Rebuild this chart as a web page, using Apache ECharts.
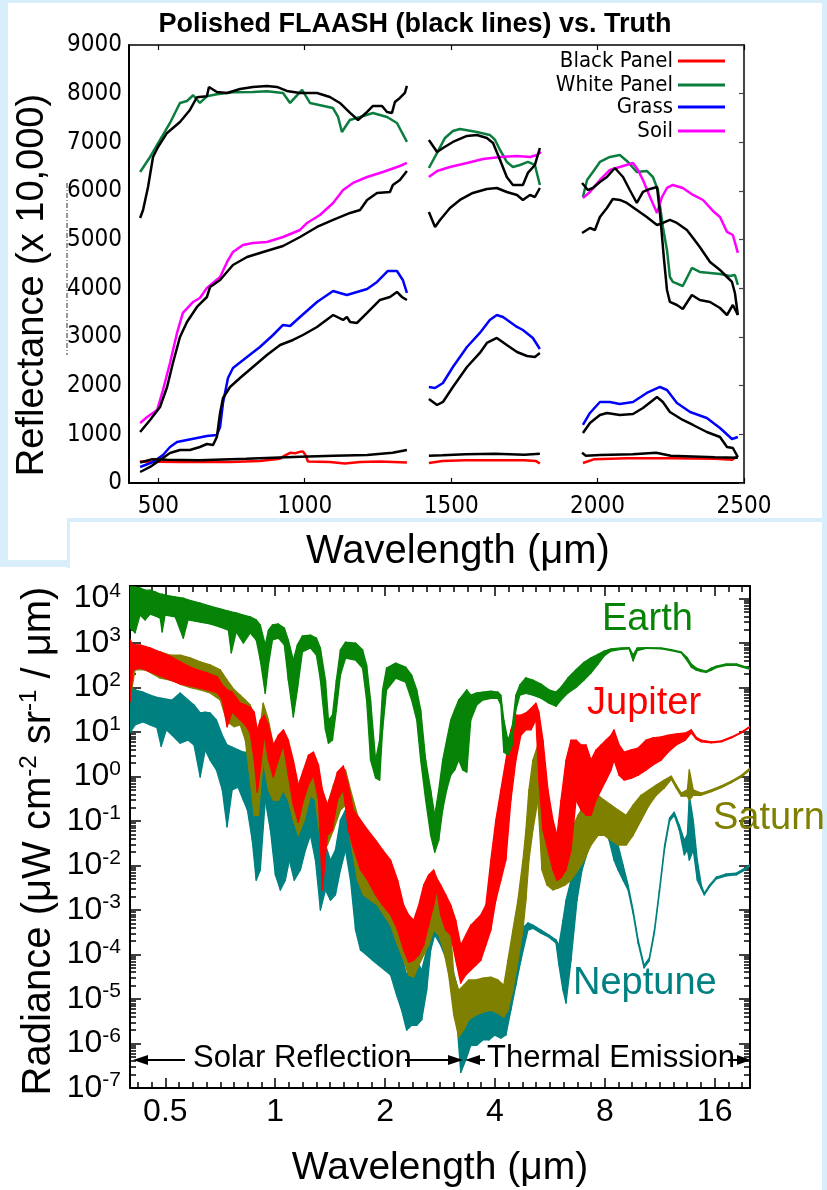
<!DOCTYPE html>
<html><head><meta charset="utf-8">
<script src="https://cdn.jsdelivr.net/npm/echarts/dist/echarts.min.js"></script>
<style>html,body{margin:0;padding:0;background:#fff;}#c{width:827px;height:1190px;}</style>
</head><body><div id="c"></div>
<script>
// ---------------- TOP PANEL DATA (wavelength nm, reflectance x10,000), 3 segments each ----------------
const blackPanelTruth = [
 [[437,440],[574,430],[745,430],[847,450],[915,500],[933,570],[950,620],[967,610],[984,640],[994,650],[1004,560],[1011,440],[1086,430],[1137,400],[1189,430],[1257,440],[1349,420]],
 [[1424,410],[1470,450],[1550,470],[1650,470],[1750,465],[1790,450],[1803,400]],
 [[1950,410],[1990,490],[2100,510],[2250,510],[2400,500],[2460,480],[2479,560]]
];
const blackPanelFlaash = [
 [[438,420],[480,490],[530,480],[640,470],[800,500],[984,540],[1100,560],[1213,575],[1300,620],[1349,680]],
 [[1424,560],[1470,570],[1550,590],[1650,600],[1750,580],[1803,600]],
 [[1947,620],[1960,560],[2008,575],[2120,590],[2200,620],[2250,560],[2400,530],[2479,520]]
];
const whitePanelTruth = [
 [[438,6391],[472,6699],[506,7049],[540,7398],[574,7809],[598,7850],[619,7967],[642,7809],[666,7946],[700,7987],[755,8028],[823,8035],[871,8049],[926,8015],[950,7809],[991,8076],[1018,7809],[1096,7706],[1114,7521],[1127,7213],[1154,7460],[1189,7521],[1233,7604],[1281,7521],[1315,7398],[1349,7008]],
 [[1424,6473],[1452,6782],[1479,7090],[1506,7234],[1530,7275],[1588,7213],[1632,7152],[1650,7049],[1667,6843],[1690,6597],[1711,6494],[1735,6535],[1762,6597],[1786,6535],[1803,6124]],
 [[1950,5877],[1964,6227],[1984,6391],[2008,6597],[2042,6699],[2076,6740],[2100,6618],[2134,6391],[2168,6412],[2189,6288],[2206,6021],[2223,5261],[2237,4788],[2247,4233],[2257,4131],[2291,4048],[2322,4418],[2349,4336],[2384,4316],[2418,4295],[2452,4254],[2469,4274],[2479,4069]]
];
const whitePanelFlaash = [
 [[438,5446],[448,5610],[465,6083],[482,6699],[499,6905],[530,7193],[574,7419],[608,7665],[632,7926],[666,7946],[673,8138],[700,8035],[735,8015],[779,8097],[823,8138],[871,8158],[905,8138],[939,8056],[984,8015],[1042,8015],[1086,7932],[1120,7809],[1155,7604],[1182,7460],[1213,7624],[1233,7747],[1264,7747],[1281,7624],[1298,7604],[1308,7829],[1325,7912],[1342,8015],[1349,8158]],
 [[1424,7049],[1452,6802],[1472,6884],[1506,7008],[1554,7131],[1588,7152],[1622,7090],[1643,6987],[1667,6638],[1690,6288],[1711,6124],[1745,6124],[1762,6371],[1786,6535],[1803,6884]],
 [[1947,6165],[1967,6021],[1984,6062],[2008,6186],[2032,6288],[2059,6473],[2087,6288],[2110,6021],[2134,5754],[2155,5980],[2179,6042],[2203,6083],[2213,5549],[2227,4583],[2237,3966],[2247,3720],[2271,3658],[2291,3576],[2322,3863],[2349,3761],[2384,3720],[2418,3596],[2442,3452],[2462,3658],[2479,3452]]
];
const grassTruth = [
 [[438,329],[482,432],[516,575],[540,740],[564,843],[598,884],[632,925],[666,966],[700,986],[711,1151],[721,1644],[738,2158],[755,2363],[803,2589],[847,2795],[892,3041],[926,3247],[950,3226],[984,3411],[1042,3720],[1097,3946],[1120,3905],[1144,3863],[1213,3987],[1247,4131],[1284,4357],[1315,4357],[1335,4172],[1349,3905]],
 [[1424,1973],[1445,1952],[1472,2055],[1506,2384],[1554,2795],[1598,3083],[1632,3350],[1656,3452],[1677,3411],[1725,3206],[1745,3144],[1779,2980],[1803,2754]],
 [[1950,1192],[1974,1439],[2008,1665],[2042,1665],[2076,1623],[2121,1665],[2168,1850],[2213,1973],[2237,1911],[2271,1644],[2316,1459],[2373,1336],[2418,1130],[2459,904],[2479,945]]
];
const grassFlaash = [
 [[438,226],[472,329],[506,473],[540,617],[574,678],[608,678],[642,740],[666,801],[687,781],[700,945],[711,1439],[721,1747],[745,1973],[779,2158],[823,2384],[871,2630],[916,2836],[960,2939],[994,3041],[1042,3206],[1097,3452],[1131,3350],[1144,3411],[1155,3309],[1178,3288],[1213,3494],[1257,3761],[1291,3822],[1315,3925],[1332,3822],[1349,3761]],
 [[1424,1726],[1438,1665],[1452,1603],[1472,1665],[1506,1973],[1554,2384],[1598,2672],[1622,2877],[1656,2980],[1690,2836],[1725,2692],[1759,2610],[1786,2589],[1803,2672]],
 [[1950,1028],[1974,1233],[2008,1397],[2032,1439],[2076,1397],[2121,1418],[2155,1541],[2203,1767],[2223,1665],[2247,1459],[2291,1295],[2326,1192],[2373,1048],[2418,945],[2442,740],[2462,719],[2479,534]]
];
const soilTruth = [
 [[438,1233],[462,1356],[496,1500],[516,1911],[540,2466],[564,3083],[584,3494],[619,3720],[642,3802],[666,4007],[711,4233],[735,4542],[755,4747],[789,4891],[823,4932],[871,4953],[926,5055],[984,5199],[1008,5343],[1052,5507],[1097,5754],[1131,6021],[1165,6165],[1213,6288],[1267,6391],[1325,6514],[1349,6576]],
 [[1424,6288],[1452,6412],[1496,6494],[1554,6576],[1609,6658],[1667,6699],[1725,6720],[1769,6699],[1793,6740],[1807,6802]],
 [[1950,5857],[1974,5980],[2008,6227],[2042,6432],[2076,6494],[2121,6576],[2138,6432],[2155,6227],[2179,5877],[2203,5549],[2220,5877],[2237,6062],[2257,6124],[2291,6062],[2326,5918],[2360,5815],[2394,5590],[2418,5466],[2442,5158],[2462,5096],[2479,4727]]
];
const soilFlaash = [
 [[438,1048],[472,1295],[506,1562],[530,1973],[550,2466],[574,3000],[598,3309],[632,3617],[666,3822],[677,4028],[711,4172],[755,4480],[803,4644],[858,4747],[926,4870],[984,5055],[1042,5261],[1097,5405],[1155,5549],[1189,5610],[1213,5816],[1247,5960],[1291,5980],[1301,6124],[1325,6227],[1349,6412]],
 [[1424,5569],[1445,5261],[1462,5405],[1496,5651],[1530,5816],[1574,5960],[1622,6042],[1656,6062],[1690,5980],[1725,5918],[1745,5816],[1769,5918],[1786,5877],[1803,6062]],
 [[1947,5138],[1974,5240],[1991,5199],[2008,5466],[2032,5651],[2052,5836],[2076,5816],[2100,5754],[2134,5610],[2168,5466],[2203,5302],[2223,5343],[2247,5405],[2271,5343],[2305,5199],[2326,5035],[2349,4850],[2384,4542],[2418,4377],[2442,4233],[2459,4131],[2469,3904],[2479,3452]]
];
const topXTicks = [500, 1000, 1500, 2000, 2500];

// ---------------- BOTTOM PANEL DATA: [wavelength µm, upper log10 radiance, lower log10 radiance] ----------------
const earthBand = [
[0.400,4.26,3.34],[0.413,4.26,3.23],[0.426,4.24,3.63],[0.440,4.19,3.52],[0.454,4.19,3.65],[0.469,4.15,3.61],[0.484,4.10,3.56],[0.490,4.10,3.25],[0.499,4.08,3.63],[0.532,4.04,3.59],[0.560,4.01,3.11],[0.577,3.97,3.52],[0.623,3.90,3.47],[0.663,3.83,3.43],[0.707,3.77,3.36],[0.744,3.72,3.29],[0.758,3.70,2.78],[0.782,3.68,3.25],[0.818,3.63,3.00],[0.854,3.59,3.23],[0.887,3.52,3.07],[0.910,3.41,2.62],[0.939,2.96,1.87],[0.958,3.29,2.51],[0.983,3.41,3.07],[1.020,3.43,3.11],[1.059,3.34,2.96],[1.086,3.07,2.17],[1.121,2.62,1.34],[1.150,2.96,1.95],[1.187,3.16,2.80],[1.249,3.18,2.89],[1.297,3.11,2.73],[1.330,2.89,2.17],[1.373,2.17,1.05],[1.399,1.27,0.75],[1.435,1.38,0.82],[1.471,2.17,1.50],[1.509,2.85,2.28],[1.558,3.02,2.66],[1.660,3.00,2.62],[1.735,2.85,2.44],[1.780,2.51,1.72],[1.825,1.72,0.37],[1.884,0.37,-0.03],[1.932,0.82,-0.08],[1.969,1.95,1.05],[2.019,2.44,1.95],[2.138,2.55,2.21],[2.277,2.46,2.12],[2.365,2.28,1.72],[2.442,1.95,1.27],[2.504,1.50,0.37],[2.584,0.37,-0.53],[2.667,-0.30,-1.32],[2.736,-0.87,-1.70],[2.806,-0.30,-1.43],[2.877,0.37,-0.75],[2.950,0.82,-0.30],[3.027,1.27,0.03],[3.104,1.50,0.15],[3.183,1.72,0.37],[3.265,1.83,0.15],[3.348,1.95,0.10],[3.435,1.83,1.27],[3.567,1.88,1.61],[3.705,1.90,1.72],[3.898,1.92,1.76],[4.075,1.90,1.76],[4.152,1.83,1.61],[4.231,1.27,0.55],[4.341,0.82,0.48],[4.452,1.05,0.68],[4.566,1.83,1.50],[4.682,2.06,1.83],[4.864,2.22,1.87],[5.083,2.17,1.83],[5.348,2.08,1.76],[5.625,1.95,1.65],[5.880,1.90,1.58],[6.069,2.01,1.72],[6.346,2.22,1.88],[6.673,2.40,2.00],[7.019,2.57,2.17],[7.336,2.67,2.33],[7.667,2.75,2.53],[7.965,2.82,2.71],[8.325,2.87,2.82],[8.868,2.89,2.86],[9.332,2.90,2.87],[9.566,2.73,2.60],[9.812,2.89,2.83],[10.39,2.90,2.88],[11.42,2.89,2.87],[12.17,2.85,2.83],[12.96,2.80,2.78],[13.47,2.67,2.60],[13.81,2.53,2.46],[14.25,2.44,2.39],[14.71,2.40,2.36],[15.18,2.37,2.34],[15.67,2.44,2.39],[16.17,2.48,2.45],[17.23,2.53,2.50],[18.35,2.53,2.50],[19.55,2.46,2.43],[20.0,2.44,2.41]
];
const jupiterBand = [
[0.400,3.07,1.68],[0.408,2.96,2.40],[0.426,2.96,2.44],[0.454,2.89,2.35],[0.484,2.80,2.26],[0.515,2.71,2.17],[0.549,2.58,2.08],[0.585,2.46,2.04],[0.612,2.40,2.00],[0.651,2.33,1.95],[0.694,2.24,1.88],[0.716,2.06,1.72],[0.738,1.95,1.12],[0.762,1.90,1.45],[0.802,1.65,1.27],[0.828,1.61,1.16],[0.854,1.56,0.98],[0.876,1.45,0.37],[0.893,1.05,-0.35],[0.910,1.27,0.15],[0.933,1.38,0.93],[0.958,1.16,0.37],[0.988,0.71,-0.01],[1.020,0.93,0.37],[1.053,1.05,0.71],[1.086,0.82,0.03],[1.121,0.37,-0.64],[1.157,-0.19,-1.03],[1.195,0.15,-0.53],[1.233,0.48,-0.19],[1.273,0.55,0.03],[1.314,0.26,-0.53],[1.347,-0.30,-2.55],[1.390,-0.64,-1.32],[1.435,-0.30,-1.20],[1.480,0.10,-0.53],[1.537,0.24,-0.30],[1.586,-0.19,-1.20],[1.637,-0.75,-1.60],[1.713,-0.98,-2.10],[1.791,-1.20,-2.33],[1.884,-1.43,-2.66],[1.969,-1.65,-2.89],[2.071,-1.88,-3.11],[2.165,-2.33,-3.45],[2.249,-2.89,-3.90],[2.321,-3.11,-4.17],[2.395,-3.23,-4.13],[2.473,-2.89,-4.01],[2.552,-2.44,-3.79],[2.634,-2.21,-3.34],[2.718,-2.10,-2.89],[2.770,-2.28,-2.55],[2.841,-2.44,-3.11],[2.932,-2.66,-3.45],[3.027,-2.89,-3.56],[3.124,-3.23,-4.13],[3.224,-3.79,-4.64],[3.328,-3.56,-4.46],[3.435,-3.34,-4.35],[3.545,-3.23,-4.24],[3.659,-3.11,-4.13],[3.777,-2.89,-3.79],[3.898,-1.88,-3.45],[4.023,-0.98,-2.78],[4.152,-0.30,-2.33],[4.286,0.37,-1.88],[4.424,1.05,-0.53],[4.566,1.38,0.37],[4.712,1.38,0.93],[4.864,1.43,1.05],[5.020,1.53,1.05],[5.181,1.65,1.27],[5.279,1.45,-0.08],[5.416,0.82,-1.20],[5.590,-0.30,-1.65],[5.770,-0.98,-2.10],[5.917,-1.32,-2.33],[6.069,-0.53,-2.28],[6.264,0.37,-2.10],[6.465,0.82,-1.65],[6.673,0.82,-0.53],[6.887,0.71,-0.75],[7.108,0.71,-0.87],[7.336,0.37,-0.87],[7.572,0.60,-0.53],[7.815,0.71,-0.30],[8.066,0.82,-0.08],[8.325,0.93,0.15],[8.481,1.05,0.37],[8.757,0.71,0.03],[9.039,0.55,-0.08],[9.447,0.60,-0.04],[9.874,0.64,0.03],[10.39,0.82,0.15],[10.84,0.87,0.26],[11.42,0.89,0.37],[11.94,0.93,0.55],[12.56,0.96,0.71],[13.30,0.98,0.82],[13.81,1.05,0.98],[14.25,0.88,0.84],[14.71,0.82,0.78],[15.67,0.78,0.76],[16.69,0.80,0.78],[17.78,0.89,0.87],[18.94,1.00,0.98],[20.0,1.13,1.11]
];
const saturnBand = [
[0.400,3.07,1.72],[0.413,2.89,2.40],[0.440,2.85,2.40],[0.484,2.80,2.21],[0.515,2.73,2.17],[0.549,2.73,2.08],[0.585,2.67,2.00],[0.623,2.58,1.95],[0.663,2.51,1.88],[0.707,2.40,1.72],[0.738,2.17,1.23],[0.772,1.95,1.12],[0.802,1.83,1.16],[0.828,1.72,0.82],[0.854,1.61,-0.08],[0.876,1.38,-0.87],[0.899,0.82,-0.87],[0.927,1.65,0.37],[0.958,1.27,-0.30],[0.988,0.71,-0.53],[1.020,0.71,-0.53],[1.053,0.66,-0.30],[1.086,0.37,-0.53],[1.121,0.03,-0.98],[1.157,-0.30,-1.32],[1.202,-0.08,-0.98],[1.249,0.21,-0.42],[1.289,0.26,-0.53],[1.330,-0.19,-1.43],[1.390,-0.64,-1.54],[1.444,-0.19,-1.20],[1.509,0.15,-0.75],[1.558,0.15,-0.64],[1.608,-0.30,-1.43],[1.681,-0.87,-2.33],[1.746,-1.09,-2.66],[1.825,-1.32,-2.78],[1.907,-1.54,-2.89],[1.982,-1.77,-3.11],[2.071,-2.10,-3.34],[2.165,-2.55,-3.79],[2.249,-3.00,-4.13],[2.321,-3.34,-4.46],[2.395,-3.45,-4.51],[2.473,-3.11,-4.24],[2.552,-2.66,-4.01],[2.634,-2.44,-3.79],[2.718,-2.33,-3.45],[2.806,-2.44,-3.56],[2.895,-2.66,-3.90],[2.988,-2.89,-4.46],[3.085,-4.46,-5.36],[3.183,-4.80,-5.85],[3.286,-4.69,-5.69],[3.391,-4.57,-5.47],[3.545,-4.57,-5.36],[3.705,-4.53,-5.30],[3.898,-4.51,-5.25],[4.075,-4.57,-5.32],[4.231,-4.69,-5.41],[4.341,-4.13,-5.25],[4.480,-3.45,-4.80],[4.624,-2.78,-4.13],[4.773,-1.88,-3.45],[4.864,-1.20,-2.78],[4.957,-0.30,-1.88],[5.083,0.37,-1.20],[5.246,0.71,-0.53],[5.382,-0.53,-2.10],[5.555,-1.65,-2.44],[5.770,-1.99,-2.55],[5.954,-1.88,-2.51],[6.225,-1.54,-2.44],[6.465,-1.20,-2.33],[6.758,-0.87,-2.10],[7.019,-0.64,-1.88],[7.336,-0.42,-1.54],[7.667,-0.42,-1.32],[7.965,-0.53,-1.32],[8.325,-0.64,-1.43],[8.702,-0.75,-1.54],[9.153,-0.87,-1.54],[9.566,-0.64,-1.32],[10.06,-0.42,-0.98],[10.59,-0.30,-0.64],[11.07,-0.19,-0.42],[11.64,-0.08,-0.26],[12.17,0.01,-0.06],[12.56,-0.19,-0.26],[12.96,-0.37,-0.44],[13.47,-0.30,-0.44],[13.64,0.15,-0.53],[13.98,-0.30,-0.42],[14.71,-0.37,-0.42],[15.67,-0.30,-0.34],[16.69,-0.21,-0.25],[17.78,-0.10,-0.14],[18.94,0.03,-0.01],[20.0,0.19,0.15]
];
const neptuneBand = [
[0.400,2.01,0.98],[0.413,1.95,1.16],[0.434,1.90,1.23],[0.454,1.83,1.16],[0.474,1.78,1.10],[0.487,1.76,0.68],[0.503,1.74,1.05],[0.522,1.72,0.93],[0.549,1.88,0.75],[0.577,1.72,0.82],[0.599,1.61,0.71],[0.623,1.43,-0.01],[0.643,1.45,0.60],[0.663,1.43,0.37],[0.690,1.27,0.15],[0.716,0.93,-0.30],[0.738,0.71,-1.13],[0.762,0.66,-0.30],[0.791,0.60,-0.24],[0.818,0.55,-0.53],[0.839,0.55,-0.75],[0.865,0.03,-1.43],[0.887,-0.30,-2.33],[0.910,-0.19,-2.10],[0.939,0.60,-0.53],[0.970,0.15,-1.20],[1.001,-0.30,-2.21],[1.033,0.15,-2.55],[1.066,0.03,-2.33],[1.093,-0.08,-1.88],[1.128,-0.53,-2.33],[1.172,-0.75,-2.10],[1.210,-0.53,-1.65],[1.249,-0.30,-1.32],[1.289,-0.53,-1.88],[1.330,-0.98,-3.00],[1.373,-1.54,-2.55],[1.417,-1.88,-2.78],[1.462,-1.65,-2.66],[1.509,-0.98,-2.10],[1.558,-0.75,-1.65],[1.608,-1.20,-2.33],[1.660,-1.88,-3.45],[1.713,-2.33,-3.90],[1.780,-2.66,-4.01],[1.848,-2.78,-4.13],[1.920,-2.89,-4.24],[1.994,-2.89,-4.35],[2.071,-3.00,-4.46],[2.151,-3.45,-4.91],[2.220,-4.01,-5.25],[2.292,-4.46,-5.70],[2.365,-4.24,-5.59],[2.442,-4.13,-5.59],[2.520,-4.35,-5.47],[2.601,-3.90,-4.80],[2.667,-3.45,-3.90],[2.736,-3.29,-3.56],[2.841,-3.45,-3.79],[2.950,-3.79,-4.13],[3.046,-4.24,-4.80],[3.144,-4.69,-5.47],[3.224,-5.47,-6.65],[3.328,-5.25,-6.37],[3.435,-5.14,-6.04],[3.567,-5.09,-6.04],[3.705,-5.14,-5.92],[3.849,-5.02,-5.92],[3.998,-4.98,-5.81],[4.152,-4.91,-5.88],[4.286,-4.80,-5.81],[4.424,-4.13,-5.25],[4.566,-3.79,-4.69],[4.712,-3.45,-4.13],[4.925,-3.29,-3.45],[5.083,-3.34,-3.41],[5.348,-3.45,-3.52],[5.625,-3.56,-3.61],[5.880,-3.67,-3.74],[5.991,-3.79,-4.24],[6.145,-3.23,-4.80],[6.264,-2.78,-5.09],[6.465,-2.33,-4.13],[6.715,-1.88,-2.78],[6.931,-1.43,-2.10],[7.199,-1.09,-1.65],[7.477,-0.80,-1.20],[7.718,-0.75,-1.09],[7.965,-0.87,-1.20],[8.221,-0.98,-1.43],[8.481,-1.09,-1.88],[8.702,-1.54,-2.10],[8.981,-1.99,-2.33],[9.268,-2.44,-2.55],[9.566,-3.00,-3.08],[9.874,-3.67,-3.75],[10.25,-4.24,-4.30],[10.59,-4.08,-4.14],[10.94,-3.45,-3.52],[11.29,-2.55,-2.62],[11.67,-1.54,-1.62],[12.04,-0.93,-1.00],[12.40,-0.80,-0.87],[12.80,-1.09,-1.20],[13.21,-1.43,-1.76],[13.47,-1.31,-1.65],[13.64,-0.42,-1.88],[13.98,-0.98,-1.65],[14.34,-1.88,-2.33],[14.71,-2.44,-2.52],[14.99,-2.62,-2.66],[15.49,-2.44,-2.48],[16.17,-2.26,-2.30],[17.23,-2.19,-2.23],[18.35,-2.17,-2.21],[19.55,-2.04,-2.08],[20.0,-1.97,-2.01]
];
const bottomXLabels = [0.5, 1, 2, 4, 8, 16];
const bottomYExponents = [-7,-6,-5,-4,-3,-2,-1,0,1,2,3,4];

// ---------------- helpers ----------------
const SANS = "'Liberation Sans', Arial, Helvetica, sans-serif";
const NARROW = "'Liberation Sans Narrow', 'DejaVu Sans Condensed', 'Liberation Sans', sans-serif";
const LB = '#d9eefb';
const X_MIN = Math.log2(0.4), X_MAX = Math.log2(20), Y_MIN = -7, Y_MAX = 4.283;

function joinSegs(segs){
  const out = [];
  segs.forEach((s, i) => {
    if (i) out.push([(segs[i-1][segs[i-1].length-1][0] + s[0][0]) / 2, '-']);
    s.forEach(p => out.push(p));
  });
  return out;
}
function topLine(name, segs, color, z){
  return { type:'line', name, xAxisIndex:0, yAxisIndex:0, data: joinSegs(segs), symbol:'none',
    connectNulls:false, lineStyle:{color, width:2.5}, itemStyle:{color}, z, animation:false };
}
function bandSeries(name, band, color){
  const data = [];
  for (let i = 0; i < band.length - 1; i++) {
    const a = band[i], b = band[i+1];
    data.push([Math.log2(a[0]), a[1], a[2], Math.log2(b[0]), b[1], b[2]]);
  }
  return { type:'custom', name, xAxisIndex:2, yAxisIndex:2, clip:true, data,
    encode:{x:[0,3], y:[1,2,4,5]},
    renderItem(params, api){
      const p1 = api.coord([api.value(0), api.value(1)]);
      const p2 = api.coord([api.value(3), api.value(4)]);
      const p3 = api.coord([api.value(3), api.value(5)]);
      const p4 = api.coord([api.value(0), api.value(2)]);
      return { type:'polygon', shape:{points:[p1,p2,p3,p4]},
        style:{fill:color, stroke:color, lineWidth:1.3, lineJoin:'round'} };
    }, animation:false };
}
const xMajor = bottomXLabels.map(v => Math.log2(v));
const xMinor = []; for (let k = -10; k <= 34; k++) if (k % 8 !== 0) xMinor.push(k / 8);
const yMinor = []; for (let n = -7; n <= 4; n++) for (let k = 2; k <= 9; k++) { const v = n + Math.log10(k); if (v <= Y_MAX) yMinor.push(v); }

const blankAxis = { axisLabel:{show:false}, splitLine:{show:false} };
function botX(grid, pos, ticks, len, showLine){
  return Object.assign({ type:'value', gridIndex:grid, position:pos, min:X_MIN, max:X_MAX,
    axisLine:{show:showLine, onZero:false, lineStyle:{color:'#000', width:2}},
    axisTick:{show:true, inside:true, length:len, customValues:ticks, lineStyle:{color:'#000', width:1.5}} }, blankAxis);
}
function botY(grid, pos, ticks, len, showLine){
  return Object.assign({ type:'value', gridIndex:grid, position:pos, min:Y_MIN, max:Y_MAX,
    axisLine:{show:showLine, onZero:false, lineStyle:{color:'#000', width:2}},
    axisTick:{show:true, inside:true, length:len, customValues:ticks, lineStyle:{color:'#000', width:1.5}} }, blankAxis);
}

const plain = v => String(v);
const xAxes = [
  { type:'value', gridIndex:0, position:'bottom', min:400, max:2500,
    axisLine:{onZero:false, lineStyle:{color:'#000', width:2}},
    axisTick:{inside:true, length:5, customValues:topXTicks, lineStyle:{color:'#000', width:1.2}},
    axisLabel:{customValues:topXTicks, margin:12, fontSize:24, fontFamily:NARROW, color:'#000', formatter:plain},
    splitLine:{show:false} },
  { type:'value', gridIndex:0, position:'top', min:400, max:2500,
    axisLine:{onZero:false, lineStyle:{color:'#000', width:1.5}},
    axisTick:{inside:true, length:5, customValues:topXTicks, lineStyle:{color:'#000', width:1.2}},
    axisLabel:{show:false}, splitLine:{show:false} },
  Object.assign(botX(1, 'bottom', xMajor, 10, true), {
    axisLabel:{show:true, customValues:xMajor, margin:8, fontSize:32, fontFamily:SANS, color:'#000',
      formatter: v => String(Math.round(Math.pow(2, v) * 10) / 10)} }),
  botX(1, 'top', xMajor, 10, true),
  botX(2, 'bottom', xMinor, 6, false),
  botX(2, 'top', xMinor, 6, false)
];
const yAxes = [
  { type:'value', gridIndex:0, position:'left', min:0, max:9000, interval:1000,
    axisLine:{show:true, onZero:false, lineStyle:{color:'#000', width:2}}, axisTick:{show:false},
    axisLabel:{margin:7, fontSize:24, fontFamily:NARROW, color:'#000', formatter:plain}, splitLine:{show:false} },
  { type:'value', gridIndex:0, position:'right', min:0, max:9000, interval:1000,
    axisLine:{show:true, onZero:false, lineStyle:{color:'#444', width:2}},
    axisTick:{show:true, inside:true, length:5, lineStyle:{color:'#444', width:1.2}},
    axisLabel:{show:false}, splitLine:{show:false} },
  Object.assign(botY(1, 'left', bottomYExponents, 11, true), {
    axisLabel:{show:true, customValues:bottomYExponents, margin:9, color:'#000',
      formatter: v => '{b|10}{s|' + Math.round(v) + '}',
      rich:{ b:{fontSize:32, fontFamily:SANS, color:'#000', lineHeight:36},
             s:{fontSize:21, fontFamily:SANS, color:'#000', verticalAlign:'top', lineHeight:22} } } }),
  botY(1, 'right', bottomYExponents, 11, true),
  botY(2, 'left', yMinor, 6, false),
  botY(2, 'right', yMinor, 6, false)
];

const series = [
  topLine('Black Panel', blackPanelTruth, '#ff0000', 2),
  topLine('White Panel', whitePanelTruth, '#0b7d3e', 2),
  topLine('Grass', grassTruth, '#0000ff', 2),
  topLine('Soil', soilTruth, '#ff00ff', 2),
  topLine('FLAASH Black Panel', blackPanelFlaash, '#000', 3),
  topLine('FLAASH White Panel', whitePanelFlaash, '#000', 3),
  topLine('FLAASH Grass', grassFlaash, '#000', 3),
  topLine('FLAASH Soil', soilFlaash, '#000', 3),
  bandSeries('Neptune', neptuneBand, '#008080'),
  bandSeries('Saturn', saturnBand, '#808000'),
  bandSeries('Jupiter', jupiterBand, '#ff0000'),
  bandSeries('Earth', earthBand, '#078407')
];

function legendItem(name, top){
  return { data:[name], orient:'horizontal', align:'right', right:102, top, padding:0,
    icon:'rect', itemWidth:47, itemHeight:3, selectedMode:false,
    textStyle:{fontFamily:NARROW, fontSize:22, color:'#000'} };
}
function txt(text, x, y, font, fill, align, extra){
  return Object.assign({ type:'text', x, y, silent:true, z:100,
    style:{ text, font, fill, align:align||'left', textAlign:align||'left', verticalAlign:'middle', textVerticalAlign:'middle' } }, extra||{});
}
function tri(points){ return { type:'polygon', shape:{points}, style:{fill:'#000'}, silent:true, z:100 }; }
function seg(x1,y1,x2,y2){ return { type:'line', shape:{x1,y1,x2,y2}, style:{stroke:'#000', lineWidth:2}, silent:true, z:100 }; }

const AY = 1060;
const graphic = [
  { type:'rect', shape:{x:0,y:0,width:827,height:3}, style:{fill:LB}, silent:true, z:-10 },
  { type:'rect', shape:{x:0,y:0,width:8,height:560}, style:{fill:LB}, silent:true, z:-10 },
  { type:'rect', shape:{x:822,y:0,width:5,height:1190}, style:{fill:LB}, silent:true, z:-10 },
  { type:'rect', shape:{x:67,y:518,width:755,height:4}, style:{fill:LB}, silent:true, z:-10 },
  { type:'rect', shape:{x:67,y:518,width:3,height:50}, style:{fill:LB}, silent:true, z:-10 },
  { type:'rect', shape:{x:0,y:560,width:68,height:7}, style:{fill:LB}, silent:true, z:-10 },
  { type:'line', shape:{x1:67,y1:183,x2:67,y2:355}, style:{stroke:'#333', lineWidth:1, lineDash:[5,2,1,2]}, silent:true },
  txt('Polished FLAASH (black lines) vs. Truth', 415, 25, 'bold 27px ' + SANS, '#000', 'center'),
  txt('Reflectance (x 10,000)', 33, 285, '38px ' + SANS, '#000', 'center', {rotation:Math.PI/2}),
  txt('Wavelength (\u03bcm)', 458, 552, '40px ' + SANS, '#000', 'center'),
  { type:'text', x:39, y:841, rotation:Math.PI/2, silent:true, z:100,
    style:{ text:'{n|Radiance (\u03bcW cm}{s|-2}{n| sr}{s|-1}{n| / \u03bcm)}', align:'center', textAlign:'center', verticalAlign:'middle', textVerticalAlign:'middle',
      rich:{ n:{fontSize:40, fontFamily:SANS, fill:'#000', color:'#000', lineHeight:44},
             s:{fontSize:24, fontFamily:SANS, fill:'#000', color:'#000', verticalAlign:'top', lineHeight:24} } } },
  txt('Wavelength (\u03bcm)', 440, 1168, '39px ' + SANS, '#000', 'center'),
  txt('Earth', 602, 620, '38px ' + SANS, '#078407', 'left'),
  txt('Jupiter', 587, 704, '38px ' + SANS, '#ff0000', 'left'),
  txt('Saturn', 713, 819, '38px ' + SANS, '#808000', 'left'),
  txt('Neptune', 573, 984, '38px ' + SANS, '#008080', 'left'),
  txt('Solar Reflection', 193, AY - 2, '31px ' + SANS, '#000', 'left'),
  txt('Thermal Emission', 487, AY - 2, '31px ' + SANS, '#000', 'left'),
  seg(140, AY, 185, AY), tri([[133,AY],[148,AY-5],[148,AY+5]]),
  seg(405, AY, 452, AY), tri([[463,AY],[448,AY-5],[448,AY+5]]),
  seg(476, AY, 485, AY), tri([[465,AY],[480,AY-5],[480,AY+5]]),
  seg(728, AY, 742, AY), tri([[751,AY],[737,AY-5],[737,AY+5]])
];

const option = {
  animation:false,
  backgroundColor:'#ffffff',
  grid:[
    {left:129, top:45, width:615, height:438},
    {left:130, top:586, width:620, height:502},
    {left:130, top:586, width:620, height:502}
  ],
  xAxis: xAxes,
  yAxis: yAxes,
  legend:[ legendItem('Black Panel', 50), legendItem('White Panel', 74), legendItem('Grass', 96), legendItem('Soil', 120) ],
  series,
  graphic
};
const chart = echarts.init(document.getElementById('c'));
chart.setOption(option);
</script></body></html>
